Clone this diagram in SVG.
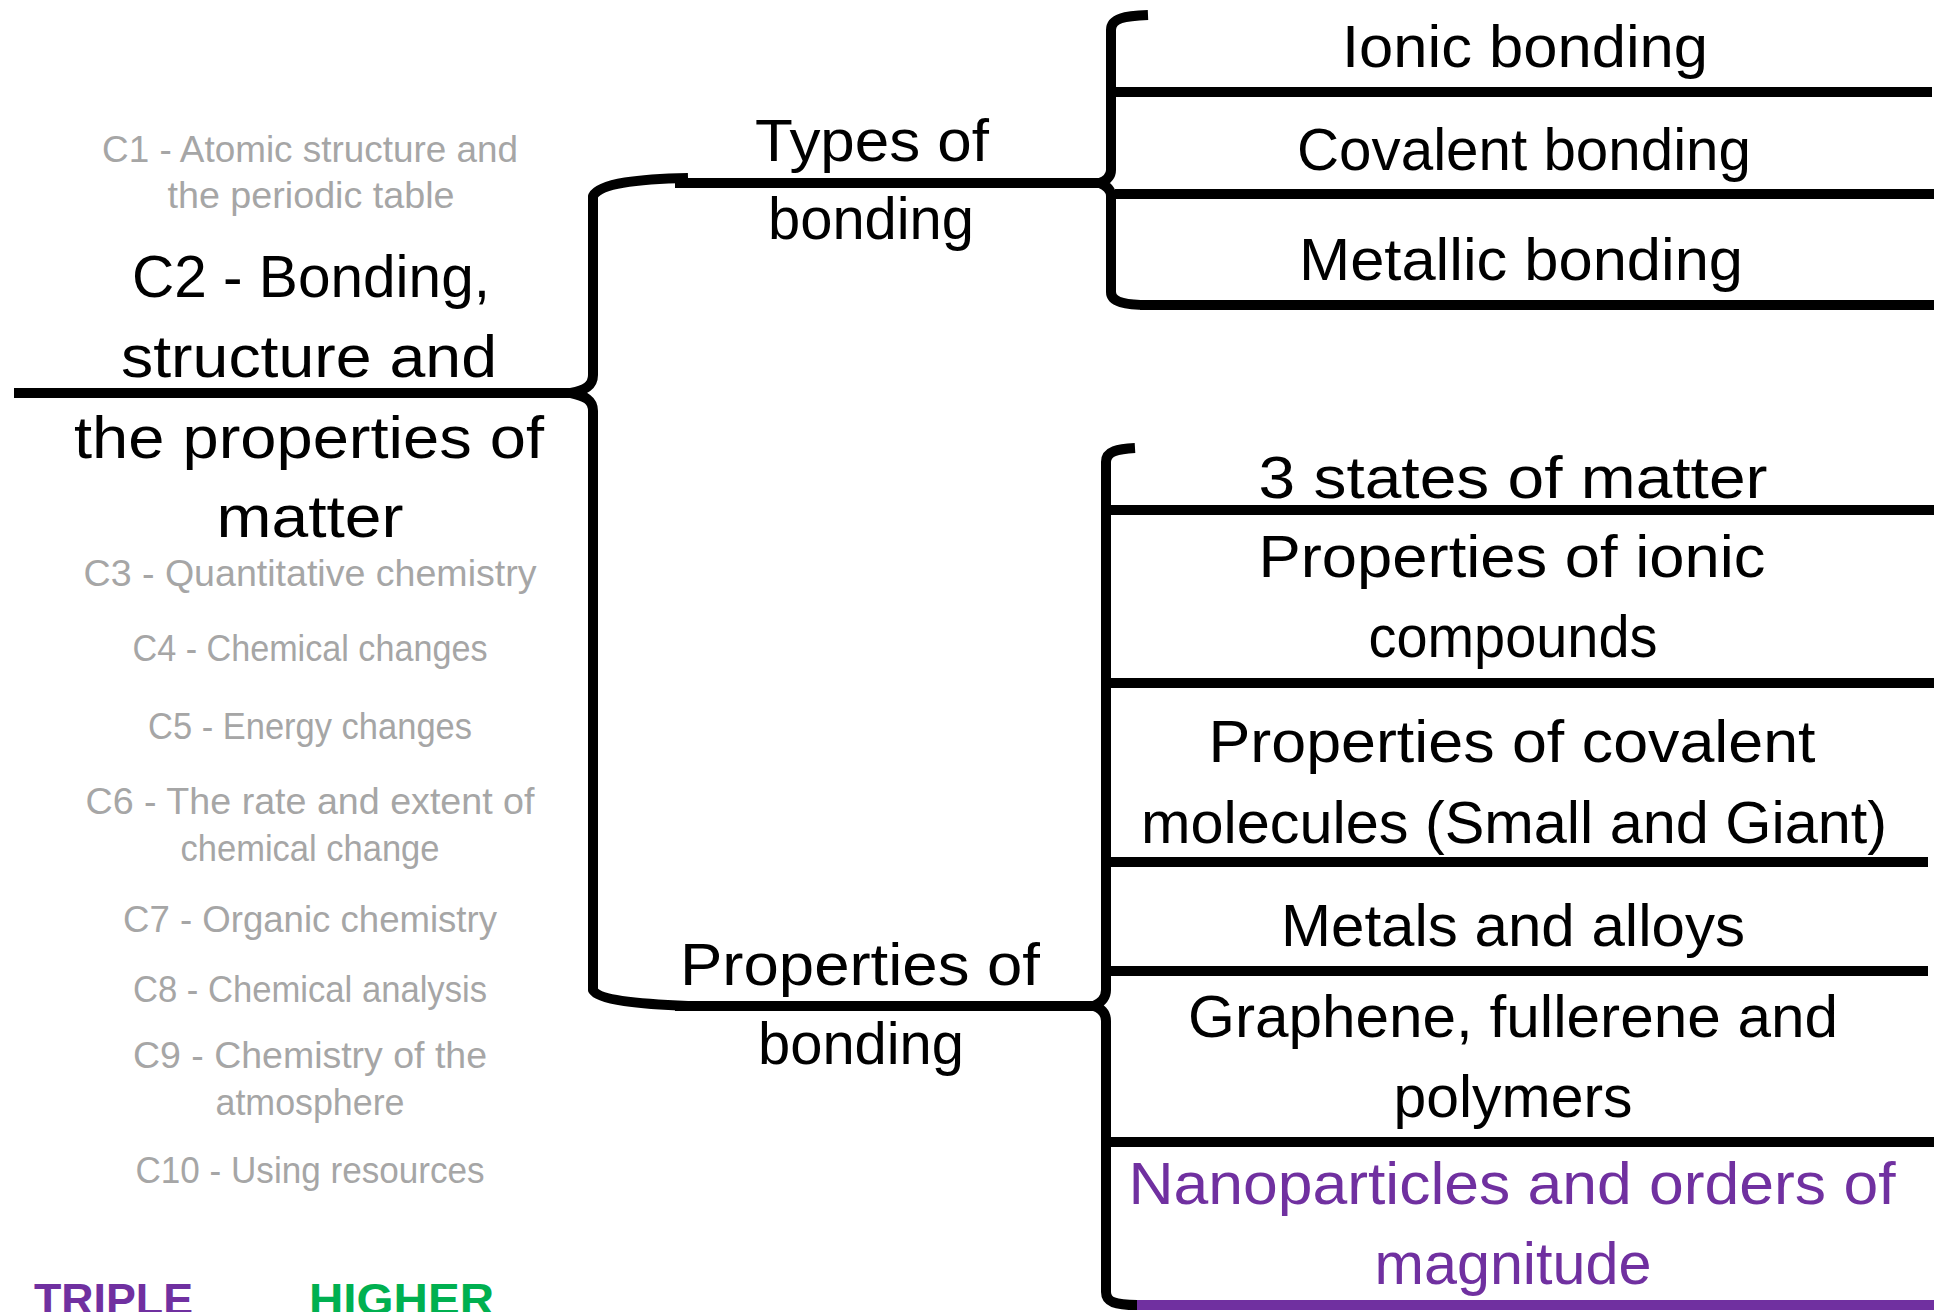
<svg xmlns="http://www.w3.org/2000/svg" width="1934" height="1312" viewBox="0 0 1934 1312">
<style>
.big{font-family:"Liberation Sans",Arial,sans-serif;font-size:60px;fill:#000;text-anchor:middle}
.grey{font-family:"Liberation Sans",Arial,sans-serif;font-size:37px;fill:#a6a6a6;text-anchor:middle}
.purple{fill:#7030a0}
.ln{stroke:#000;stroke-width:10;fill:none;stroke-linecap:butt}
.br{stroke:#000;stroke-width:10;fill:none;stroke-linejoin:round}
.tag{font-family:"Liberation Sans",Arial,sans-serif;font-size:45px;font-weight:bold}
</style>
<rect width="1934" height="1312" fill="#fff"/>
<g id="connectors">
<line class="ln" x1="14" y1="393" x2="572" y2="393"/>
<path class="br" d="M688,178 C640,179 600,183 593,196 L593,375 C593,386 585,390 571,393 C585,396 593,400 593,411 L593,990 C598,1000 640,1004 688,1006"/>
<line class="ln" x1="675" y1="183" x2="1100" y2="183"/>
<line class="ln" x1="675" y1="1006" x2="1094" y2="1006"/>
<path class="br" d="M1148,15 C1125,16 1111,18 1111,30 L1111,170 C1111,178 1105,181 1100,183 C1105,185 1111,188 1111,196 L1111,292 C1111,302 1125,305 1148,305"/>
<line class="ln" x1="1115" y1="92" x2="1932" y2="92"/>
<line class="ln" x1="1115" y1="194" x2="1934" y2="194"/>
<line class="ln" x1="1140" y1="305" x2="1934" y2="305"/>
<path class="br" d="M1135,448 C1118,449 1106,451 1106,462 L1106,990 C1106,999 1100,1003 1094,1006 C1100,1008 1106,1012 1106,1021 L1106,1292 C1106,1302 1115,1305 1137,1305"/>
<line class="ln" x1="1110" y1="510" x2="1934" y2="510"/>
<line class="ln" x1="1110" y1="683" x2="1934" y2="683"/>
<line class="ln" x1="1110" y1="862" x2="1928" y2="862"/>
<line class="ln" x1="1110" y1="971" x2="1928" y2="971"/>
<line class="ln" x1="1110" y1="1142" x2="1934" y2="1142"/>
<line x1="1137" y1="1305" x2="1934" y2="1305" stroke="#7030a0" stroke-width="10"/>
</g>
<g id="topic-list">
<text class="grey" x="310" y="162" textLength="416" lengthAdjust="spacingAndGlyphs">C1 - Atomic structure and</text>
<text class="grey" x="311" y="208" textLength="287" lengthAdjust="spacingAndGlyphs">the periodic table</text>
<text class="grey" x="310" y="586" textLength="453" lengthAdjust="spacingAndGlyphs">C3 - Quantitative chemistry</text>
<text class="grey" x="310" y="661" textLength="355" lengthAdjust="spacingAndGlyphs">C4 - Chemical changes</text>
<text class="grey" x="310" y="739" textLength="324" lengthAdjust="spacingAndGlyphs">C5 - Energy changes</text>
<text class="grey" x="310" y="814" textLength="449" lengthAdjust="spacingAndGlyphs">C6 - The rate and extent of</text>
<text class="grey" x="310" y="861" textLength="259" lengthAdjust="spacingAndGlyphs">chemical change</text>
<text class="grey" x="310" y="932" textLength="374" lengthAdjust="spacingAndGlyphs">C7 - Organic chemistry</text>
<text class="grey" x="310" y="1002" textLength="354" lengthAdjust="spacingAndGlyphs">C8 - Chemical analysis</text>
<text class="grey" x="310" y="1068" textLength="354" lengthAdjust="spacingAndGlyphs">C9 - Chemistry of the</text>
<text class="grey" x="310" y="1115" textLength="189" lengthAdjust="spacingAndGlyphs">atmosphere</text>
<text class="grey" x="310" y="1183" textLength="349" lengthAdjust="spacingAndGlyphs">C10 - Using resources</text>
</g>
<g id="main-topic">
<text class="big" x="311" y="297" textLength="358" lengthAdjust="spacingAndGlyphs">C2 - Bonding,</text>
<text class="big" x="309" y="377" textLength="376" lengthAdjust="spacingAndGlyphs">structure and</text>
<text class="big" x="309" y="458" textLength="470" lengthAdjust="spacingAndGlyphs">the properties of</text>
<text class="big" x="310" y="537" textLength="187" lengthAdjust="spacingAndGlyphs">matter</text>
</g>
<g id="types-of-bonding">
<text class="big" x="872" y="161" textLength="234" lengthAdjust="spacingAndGlyphs">Types of</text>
<text class="big" x="871" y="239" textLength="206" lengthAdjust="spacingAndGlyphs">bonding</text>
</g>
<g id="properties-of-bonding">
<text class="big" x="860" y="985" textLength="360" lengthAdjust="spacingAndGlyphs">Properties of</text>
<text class="big" x="861" y="1064" textLength="206" lengthAdjust="spacingAndGlyphs">bonding</text>
</g>
<g id="ionic-bonding"><text class="big" x="1525" y="67" textLength="366" lengthAdjust="spacingAndGlyphs">Ionic bonding</text></g>
<g id="covalent-bonding"><text class="big" x="1524" y="170" textLength="454" lengthAdjust="spacingAndGlyphs">Covalent bonding</text></g>
<g id="metallic-bonding"><text class="big" x="1521" y="280" textLength="444" lengthAdjust="spacingAndGlyphs">Metallic bonding</text></g>
<g id="states-of-matter"><text class="big" x="1513" y="498" textLength="509" lengthAdjust="spacingAndGlyphs">3 states of matter</text></g>
<g id="ionic-compounds">
<text class="big" x="1512" y="577" textLength="507" lengthAdjust="spacingAndGlyphs">Properties of ionic</text>
<text class="big" x="1513" y="657" textLength="289" lengthAdjust="spacingAndGlyphs">compounds</text>
</g>
<g id="covalent-molecules">
<text class="big" x="1512" y="762" textLength="607" lengthAdjust="spacingAndGlyphs">Properties of covalent</text>
<text class="big" x="1514" y="843" textLength="746" lengthAdjust="spacingAndGlyphs">molecules (Small and Giant)</text>
</g>
<g id="metals-alloys"><text class="big" x="1513" y="946" textLength="464" lengthAdjust="spacingAndGlyphs">Metals and alloys</text></g>
<g id="graphene">
<text class="big" x="1513" y="1037" textLength="650" lengthAdjust="spacingAndGlyphs">Graphene, fullerene and</text>
<text class="big" x="1513" y="1117" textLength="239" lengthAdjust="spacingAndGlyphs">polymers</text>
</g>
<g id="nanoparticles">
<text class="big purple" x="1512" y="1204" textLength="767" lengthAdjust="spacingAndGlyphs">Nanoparticles and orders of</text>
<text class="big purple" x="1513" y="1284" textLength="277" lengthAdjust="spacingAndGlyphs">magnitude</text>
</g>
<g id="legend">
<text class="tag" x="34" y="1315" fill="#7030a0" textLength="159" lengthAdjust="spacingAndGlyphs">TRIPLE</text>
<text class="tag" x="309" y="1315" fill="#00b050" textLength="185" lengthAdjust="spacingAndGlyphs">HIGHER</text>
</g>
</svg>
